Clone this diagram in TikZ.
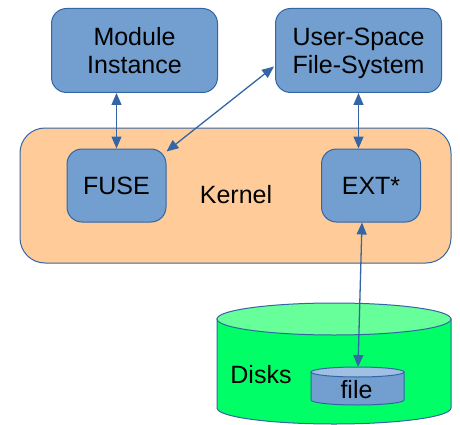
\documentclass[tikz,border=0pt]{standalone}
\usepackage{fontspec}
\setmainfont{Liberation Sans}
\usetikzlibrary{arrows.meta,calc}
\definecolor{boxfill}{HTML}{729FCF}
\definecolor{boxline}{HTML}{3465A4}
\definecolor{kernfill}{HTML}{FFCC99}
\definecolor{diskbody}{HTML}{00FF66}
\definecolor{disktop}{HTML}{66FF99}
\definecolor{filetop}{HTML}{9FBFE3}
\tikzset{
  bluebox/.style={draw=boxline, fill=boxfill, line width=1pt, rounded corners=15pt,
    inner sep=0pt, align=center, font=\fontsize{25}{28}\selectfont},
  kernbox/.style={draw=boxline, fill=kernfill, line width=1pt, rounded corners=25pt, inner sep=0pt},
  lbl/.style={font=\fontsize{25}{28}\selectfont, inner sep=0pt, anchor=base},
  link/.style={draw=boxline, line width=1.3pt, {Triangle[length=12pt,width=10pt]}-{Triangle[length=12pt,width=10pt]}},
}
\begin{document}
\begin{tikzpicture}[x=1pt,y=-1pt]
\useasboundingbox (0,0) rectangle (460,425);
% kernel
\node[kernbox, minimum width=431pt, minimum height=135pt] (kern) at (235.5,195.5) {};
\node[lbl] (kernlbl) at (236,203) {Kernel};
% top boxes
\node[bluebox, minimum width=166pt, minimum height=84pt, text height=46pt, text depth=0pt] (mod) at (134.5,50.5) {Module\\Instance};
\node[bluebox, minimum width=166pt, minimum height=84pt, text height=46pt, text depth=0pt] (user) at (358.5,50.5) {User-Space\\File-System};
% inner boxes
\node[bluebox, minimum width=99pt, minimum height=73pt, text height=18pt, text depth=0pt] (fuse) at (116.5,185.5) {FUSE};
\node[bluebox, minimum width=99pt, minimum height=73pt, text height=18pt, text depth=0pt] (ext) at (371,185.5) {EXT*};
% disk cylinder
\path[fill=diskbody, draw=boxline, line width=1pt]
  (217,319) -- (217,408) arc[start angle=180, end angle=0, x radius=117, y radius=16] -- (451,319) -- cycle;
\path[fill=disktop, draw=boxline, line width=1pt] (334,319) ellipse[x radius=117, y radius=16];
\node[lbl] (disklbl) at (261,383) {Disks};
% file cylinder
\path[fill=boxfill, draw=boxline, line width=1pt]
  (311,372) -- (311,400) arc[start angle=180, end angle=0, x radius=46.5, y radius=5] -- (404,372) -- cycle;
\path[fill=filetop, draw=boxline, line width=1pt] (357.5,372) ellipse[x radius=46.5, y radius=5];
\coordinate (fileN) at (358,367);
\node[lbl] (filelbl) at (356.5,398) {file};
% connectors
\draw[link] (fuse.north |- mod.south) -- (fuse.north);
\draw[link] (user.south) -- (user.south |- ext.north);
\draw[link] ($(fuse.north east)+(0,3)$) -- ($(user.west)+(-1,16)$);
\draw[link] ($(ext.south)+(-9,0)$) -- (fileN);
\end{tikzpicture}
\end{document}
